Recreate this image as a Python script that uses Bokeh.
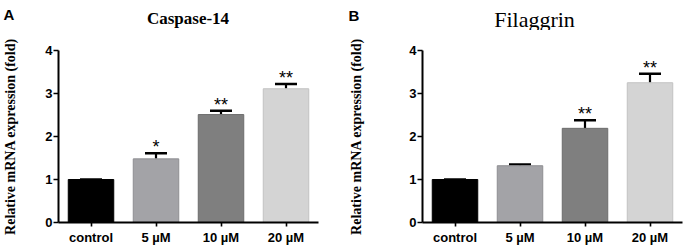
from bokeh.plotting import figure
from bokeh.layouts import row, column
from bokeh.models import (FactorRange, Range1d, FixedTicker, Whisker, TeeHead,
                          ColumnDataSource)
from bokeh.embed import file_html
from bokeh.resources import INLINE
from bokeh.core.properties import value

# ---- data ----
categories = ["control", "5 \u00b5M", "10 \u00b5M", "20 \u00b5M"]
caspase_mean = [1.00, 1.48, 2.51, 3.11]
caspase_err = [0.00, 0.13, 0.09, 0.11]
caspase_sig = ["", "*", "**", "**"]
filaggrin_mean = [1.00, 1.32, 2.19, 3.25]
filaggrin_err = [0.00, 0.03, 0.19, 0.21]
filaggrin_sig = ["", "", "**", "**"]
y_ticks = [0, 1, 2, 3, 4]

panel_letters = ["A", "B"]
panel_titles = ["Caspase-14", "Filaggrin"]

bar_fill = ["#000000", "#a3a3a7", "#7f7f7f", "#d4d4d4"]
bar_line = ["#000000", "#8e8e92", "#6c6c6c", "#c2c2c2"]

SANS = "Liberation Sans"
SERIF = "Liberation Serif"
PANEL_W = 343
TOTAL_W = 2 * PANEL_W
HEADER_H = 30
FRAME_H = 173
Y_MAX = 4


def make_header():
    h = figure(width=TOTAL_W, height=HEADER_H,
               x_range=Range1d(0, TOTAL_W), y_range=Range1d(HEADER_H, 0),
               min_border=0, x_axis_location=None, y_axis_location=None,
               output_backend="svg", toolbar_location=None)
    h.outline_line_color = None
    h.grid.visible = False
    h.background_fill_color = "white"
    h.border_fill_color = "white"
    # panel letters
    h.text(x=[3, 348], y=[14, 15], text=panel_letters, text_font=value(SANS),
           text_font_size="15px", text_font_style="bold", text_color="black",
           text_align="left", text_baseline="alphabetic")
    # panel titles
    h.text(x=[187.5], y=[17.5], text=[panel_titles[0]], text_font=value(SERIF),
           text_font_size="17px", text_font_style="bold",
           text_color="black", text_align="center", text_baseline="alphabetic")
    h.text(x=[534], y=[18.5], text=[panel_titles[1]], text_font=value(SERIF),
           text_font_size="22px", text_font_style="normal",
           text_color="black", text_align="center", text_baseline="alphabetic")
    return h


def make_panel(means, errs, sig, left, right, top, bottom, label_standoff):
    p = figure(x_range=FactorRange(factors=categories, range_padding=0, factor_padding=0),
               y_range=Range1d(0, Y_MAX),
               width=PANEL_W, height=top + FRAME_H + bottom,
               min_border_left=left, min_border_right=right,
               min_border_top=top, min_border_bottom=bottom,
               output_backend="svg", toolbar_location=None)
    p.outline_line_color = None
    p.xgrid.grid_line_color = None
    p.ygrid.grid_line_color = None
    p.background_fill_color = "white"
    p.border_fill_color = "white"

    upper = [m + e for m, e in zip(means, errs)]
    src = ColumnDataSource(dict(x=categories, top=means, upper=upper, sig=sig,
                                fill=bar_fill, line=bar_line))
    p.vbar(x="x", top="top", width=0.70, source=src, fill_color="fill",
           line_color="line", line_width=1)

    w = Whisker(source=src, base="x", upper="upper", lower="top",
                line_color="black", line_width=2.2, lower_head=None,
                upper_head=TeeHead(size=22, line_width=2.5, line_color="black"))
    p.add_layout(w)

    p.text(x="x", y="upper", text="sig", source=src, text_align="center",
           text_baseline="middle", text_font=value(SANS), text_font_size="18px",
           text_color="black", y_offset=-6)

    for ax in (p.xaxis, p.yaxis):
        ax.axis_line_width = 2
        ax.axis_line_color = "black"
        ax.major_tick_in = 0
        ax.major_tick_line_width = 1.6
        ax.minor_tick_line_color = None
        ax.major_label_text_font = SANS
        ax.major_label_text_font_style = "bold"
        ax.major_label_text_font_size = "13px"
        ax.major_label_text_color = "black"
    p.xaxis.major_tick_out = 4
    p.xaxis.major_label_standoff = 3
    p.yaxis.major_tick_out = 5
    p.yaxis.major_label_standoff = 1
    p.yaxis.ticker = FixedTicker(ticks=y_ticks)
    p.yaxis.axis_label = "Relative mRNA expression (fold)"
    p.yaxis.axis_label_text_font = SERIF
    p.yaxis.axis_label_text_font_style = "bold"
    p.yaxis.axis_label_text_font_size = "14px"
    p.yaxis.axis_label_text_color = "black"
    p.yaxis.axis_label_standoff = label_standoff
    return p


header = make_header()
pA = make_panel(caspase_mean, caspase_err, caspase_sig,
                left=58, right=25, top=49 - HEADER_H, bottom=26, label_standoff=24)
pB = make_panel(filaggrin_mean, filaggrin_err, filaggrin_sig,
                left=79, right=4, top=50 - HEADER_H, bottom=25, label_standoff=42)

layout = column(header, row(pA, pB))
open("out.html", "w").write(file_html(layout, INLINE))
